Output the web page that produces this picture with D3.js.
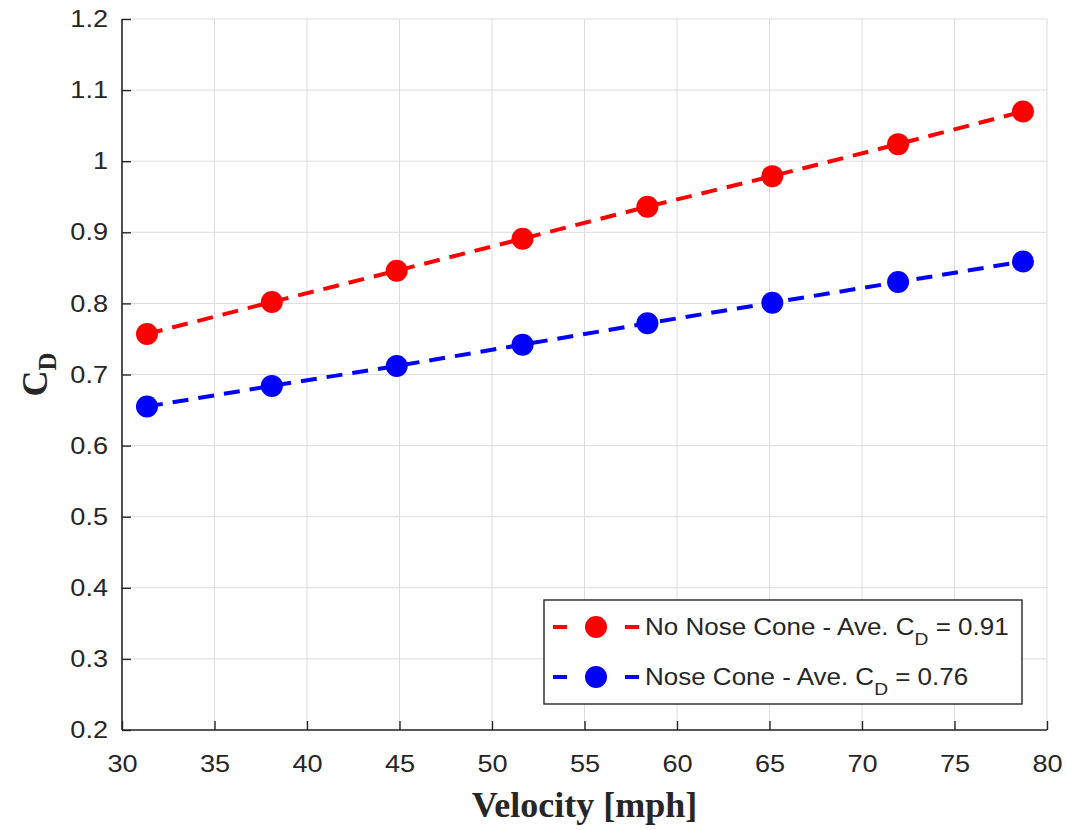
<!DOCTYPE html>
<html>
<head>
<meta charset="utf-8">
<script src="https://cdn.jsdelivr.net/npm/d3@7"></script>
<style>
  html, body { margin: 0; padding: 0; background: #ffffff; }
  svg { display: block; }
</style>
</head>
<body>
<svg id="chart" width="1066" height="830"></svg>
<script>
// ---- data ----
const velocity = [31.35, 38.1, 44.85, 51.65, 58.4, 65.15, 71.95, 78.7];
const cdNoCone = [0.757, 0.802, 0.846, 0.891, 0.936, 0.979, 1.024, 1.070];
const cdCone   = [0.655, 0.684, 0.712, 0.742, 0.772, 0.801, 0.830, 0.859];
const seriesNames = ["No Nose Cone - Ave. C", "Nose Cone - Ave. C"];
const seriesAvg = ["0.91", "0.76"];
const xTicks = [30, 35, 40, 45, 50, 55, 60, 65, 70, 75, 80];
const yTicks = [0.2, 0.3, 0.4, 0.5, 0.6, 0.7, 0.8, 0.9, 1.0, 1.1, 1.2];

const series = [
  { name: seriesNames[0], avg: seriesAvg[0], values: cdNoCone, color: "#ff0000" },
  { name: seriesNames[1], avg: seriesAvg[1], values: cdCone, color: "#0000ff" }
];

const svg = d3.select("#chart");
const m = { left: 122, right: 1047, top: 19, bottom: 730 };

const x = d3.scaleLinear().domain([30, 80]).range([m.left, m.right]);
const y = d3.scaleLinear().domain([0.2, 1.2]).range([m.bottom, m.top]);

const axisColor = "#262626";
const gridColor = "#dcdcdc";
const tickFont = "'Liberation Sans', Arial, Helvetica, sans-serif";
const serif = "'Liberation Serif', 'Times New Roman', serif";
const stretch = 1.13;

// grid
const grid = svg.append("g");
grid.selectAll("line.gx").data(xTicks).enter().append("line")
  .attr("x1", d => x(d)).attr("x2", d => x(d))
  .attr("y1", m.top).attr("y2", m.bottom)
  .attr("stroke", gridColor).attr("stroke-width", 1);
grid.selectAll("line.gy").data(yTicks).enter().append("line")
  .attr("x1", m.left).attr("x2", m.right)
  .attr("y1", d => y(d)).attr("y2", d => y(d))
  .attr("stroke", gridColor).attr("stroke-width", 1);

// axes (ticks inside)
const fmtY = d => d3.format("~g")(+d.toFixed(1));
const xAxis = d3.axisBottom(x).tickValues(xTicks).tickSize(-9).tickPadding(25).tickFormat(d3.format("d"));
const yAxis = d3.axisLeft(y).tickValues(yTicks).tickSize(-9).tickPadding(14).tickFormat(fmtY);

const gx = svg.append("g").attr("transform", `translate(0,${m.bottom})`).call(xAxis);
const gy = svg.append("g").attr("transform", `translate(${m.left},0)`).call(yAxis);
[gx, gy].forEach(g => {
  g.select(".domain").attr("stroke", axisColor).attr("stroke-width", 1.6);
  g.selectAll(".tick line").attr("stroke", axisColor).attr("stroke-width", 1.4);
  g.selectAll(".tick text").attr("fill", axisColor)
    .style("font-family", tickFont).style("font-size", "24px");
});
gx.selectAll(".tick text").attr("y", 0).attr("dy", "0.71em")
  .attr("transform", `translate(0,25) scale(${stretch},1)`);
gy.selectAll(".tick text").attr("x", 0)
  .attr("transform", `translate(-14,0) scale(${stretch},1)`);
gy.select(".domain").attr("d", `M0,${m.bottom}V${m.top}`);
gx.select(".domain").attr("d", `M${m.left},0H${m.right}`);

// series
const line = d3.line().x((d, i) => x(velocity[i])).y(d => y(d));
series.forEach(s => {
  svg.append("path").datum(s.values)
    .attr("d", line)
    .attr("fill", "none")
    .attr("stroke", s.color)
    .attr("stroke-width", 4)
    .attr("stroke-dasharray", "16,10");
  svg.append("g").selectAll("circle").data(s.values).enter().append("circle")
    .attr("cx", (d, i) => x(velocity[i]))
    .attr("cy", d => y(d))
    .attr("r", 11)
    .attr("fill", s.color);
});

// axis labels
svg.append("text")
  .attr("x", (m.left + m.right) / 2).attr("y", 817)
  .attr("text-anchor", "middle")
  .style("font-family", serif).style("font-weight", "bold").style("font-size", "36px")
  .attr("fill", axisColor)
  .text("Velocity [mph]");

const yl = svg.append("text")
  .attr("transform", `translate(47,${(m.top + m.bottom) / 2}) rotate(-90)`)
  .attr("text-anchor", "middle")
  .style("font-family", serif).style("font-weight", "bold").style("font-size", "36px")
  .attr("fill", axisColor);
yl.append("tspan").text("C");
yl.append("tspan").attr("dy", 9).style("font-size", "25px").text("D");

// legend
const lg = svg.append("g");
lg.append("rect")
  .attr("x", 544).attr("y", 600).attr("width", 478).attr("height", 104)
  .attr("fill", "#ffffff").attr("stroke", axisColor).attr("stroke-width", 1.4);
series.forEach((s, i) => {
  const cy = 627 + i * 50;
  lg.append("line")
    .attr("x1", 553).attr("x2", 639).attr("y1", cy).attr("y2", cy)
    .attr("stroke", s.color).attr("stroke-width", 4)
    .attr("stroke-dasharray", "14,58,14");
  lg.append("circle").attr("cx", 596).attr("cy", cy).attr("r", 11).attr("fill", s.color);
  const t = lg.append("text")
    .attr("x", 0).attr("y", 0)
    .attr("transform", `translate(645,${cy + 8}) scale(${stretch},1)`)
    .style("font-family", tickFont).style("font-size", "23px")
    .attr("fill", axisColor);
  t.append("tspan").text(s.name);
  t.append("tspan").attr("dy", 10).style("font-size", "17px").text("D");
  t.append("tspan").attr("dy", -10).text(" = " + s.avg);
});
</script>
</body>
</html>
